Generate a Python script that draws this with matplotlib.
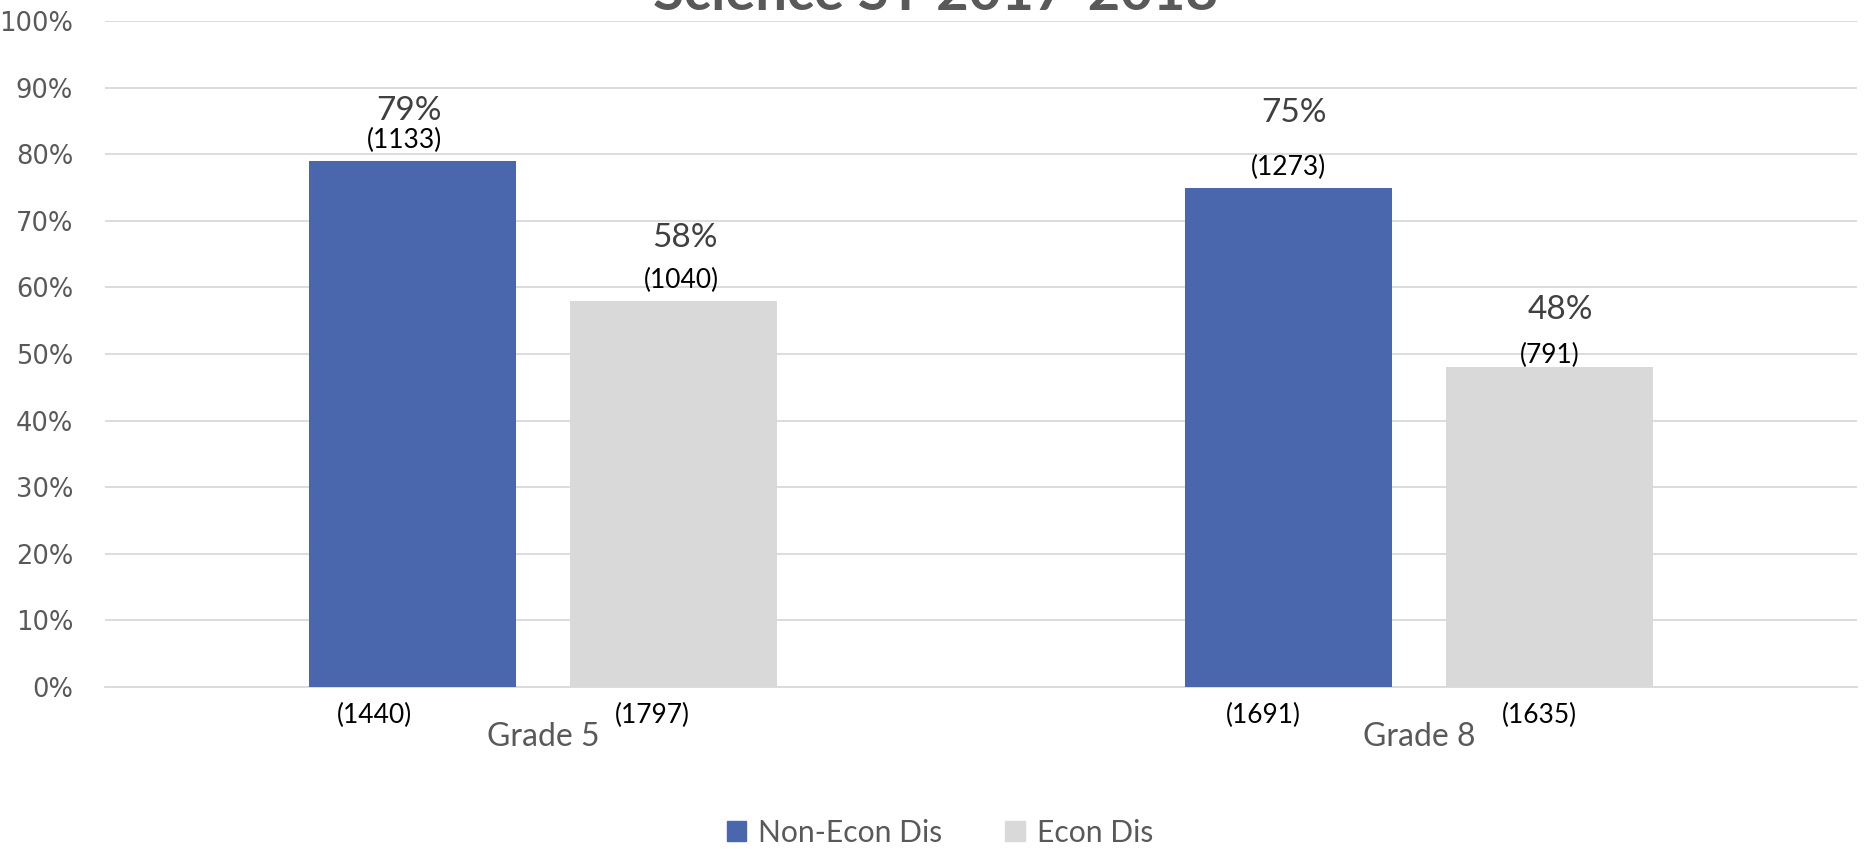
import numpy as np
import matplotlib
matplotlib.use("Agg")
import matplotlib.pyplot as plt
from matplotlib.patches import Patch

# data
categories = ["Grade 5", "Grade 8"]
series_names = ["Non-Econ Dis", "Econ Dis"]
non_econ = [79, 75]
econ = [58, 48]
non_econ_n_pass = [1133, 1273]
econ_n_pass = [1040, 791]
non_econ_n_total = [1440, 1691]
econ_n_total = [1797, 1635]

blue = "#4A66AC"
grey = "#D9D9D9"
txt = "#595959"

fig = plt.figure(figsize=(18.64, 8.49), dpi=100)
ax = fig.add_axes([105 / 1864, 1 - 687 / 849, 1752 / 1864, 666 / 849])

x = np.arange(len(categories))
w = 0.236
off = 0.149
b1 = ax.bar(x - off, non_econ, w, color=blue, zorder=3)
b2 = ax.bar(x + off, econ, w, color=grey, zorder=3)

ax.set_xlim(-0.5, 1.5)
ax.set_ylim(0, 100)
ax.set_yticks(np.arange(0, 101, 10))
ax.set_yticklabels([f"{v}%" for v in range(0, 101, 10)], fontsize=18.5,
                   color=txt, family="DejaVu Sans")
ax.yaxis.grid(True, color="#D9D9D9", linewidth=1.3, zorder=0)
ax.tick_params(axis="y", length=0, pad=23)
ax.set_xticks(x)
ax.set_xticklabels(categories, fontsize=23, color=txt, family="Lato")
ax.tick_params(axis="x", length=0, pad=25)
for s in ["top", "right", "left"]:
    ax.spines[s].set_visible(False)
ax.spines["bottom"].set_color("#D9D9D9")
ax.spines["bottom"].set_linewidth(1.3)

# label offsets in pixels (dx, dy above bar top)
pct_offsets = [[(-3, 50), (6, 74)], [(11, 63), (11, 57)]]
n_offsets = [[(-8, 20), (0, 20)], [(8, 20), (0, 12)]]
bottom_dx = [[-38, -25], [-21, -10]]

for si, (bars, vals, npass, ntot) in enumerate(
        [(b1, non_econ, non_econ_n_pass, non_econ_n_total),
         (b2, econ, econ_n_pass, econ_n_total)]):
    for ci, bar in enumerate(bars):
        cx = bar.get_x() + bar.get_width() / 2
        top = bar.get_height()
        dx, dy = pct_offsets[si][ci]
        ax.annotate(f"{vals[ci]}%", (cx, top), xytext=(dx, dy),
                    textcoords="offset pixels", ha="center", va="center",
                    fontsize=24, color="#404040", family="Lato")
        dx, dy = n_offsets[si][ci]
        ax.annotate(f"({npass[ci]})", (cx, top), xytext=(dx, dy),
                    textcoords="offset pixels", ha="center", va="center",
                    fontsize=19, color="black", family="Lato")
        ax.annotate(f"({ntot[ci]})", (cx, 0), xytext=(bottom_dx[si][ci], -28),
                    textcoords="offset pixels", ha="center", va="center",
                    fontsize=19, color="black", family="Lato",
                    annotation_clip=False)

fig.text(936 / 1864, 1 - 10 / 849, "Science ST 2017-2018", ha="center",
         va="baseline", fontsize=40.5, fontweight="bold", color=txt, family="Lato")

handles = [Patch(color=blue), Patch(color=grey)]
fig.legend(handles, series_names, loc="center", ncol=2,
           bbox_to_anchor=(940 / 1864, 1 - 833 / 849), frameon=False,
           prop={"family": "Lato", "size": 21.6}, labelcolor=txt,
           handlelength=0.65, handleheight=0.65, handletextpad=0.4,
           columnspacing=2.1)

fig.savefig("out.png", dpi=100)
